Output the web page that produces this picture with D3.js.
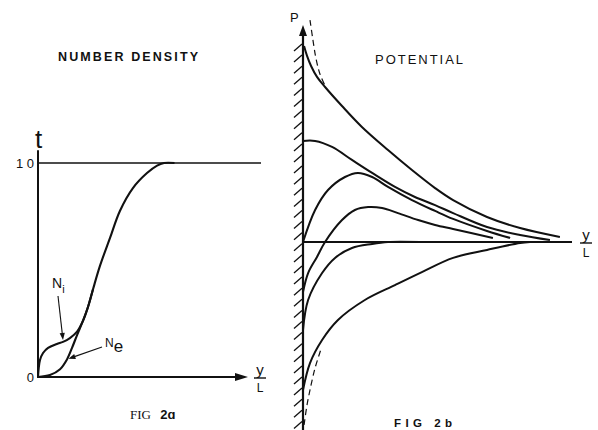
<!DOCTYPE html>
<html>
<head>
<meta charset="utf-8">
<title>Fig 2 - number density and potential</title>
<style>
  body { margin: 0; background: #fff; }
  svg { display: block; background: #fff; }
  text { fill: #111; }
</style>
</head>
<body>
<div id="chart"></div>
<script src="https://cdn.jsdelivr.net/npm/d3@7/dist/d3.min.js"></script>
<script>

// ---------------- fig 2a : number density, x = y/L, y = density (0..1)
const ionDensity = [
  [0, 0], [0.0095, 0.079], [0.024, 0.112], [0.048, 0.136], [0.090, 0.154],
  [0.119, 0.164], [0.152, 0.182], [0.186, 0.212], [0.214, 0.262], [0.238, 0.327],
  [0.262, 0.410], [0.295, 0.519], [0.343, 0.650], [0.390, 0.776], [0.452, 0.883],
  [0.519, 0.953], [0.567, 0.988], [0.600, 1.0], [0.65, 1.0]
];
const electronDensity = [
  [0, 0], [0.057, 0.009], [0.105, 0.036], [0.138, 0.082], [0.162, 0.136],
  [0.186, 0.196], [0.214, 0.262], [0.238, 0.327], [0.262, 0.410]
];
const densityTicks = [0, 1];
const densityTickLabels = ["0", "1 0"];
const densityLineEnd = 1.062;

// ---------------- fig 2b : potential profiles, x = y/L, y = P
const potentialTop = [
  [0.004, 1.010], [0.015, 0.959], [0.030, 0.907], [0.052, 0.851], [0.082, 0.799],
  [0.145, 0.701], [0.219, 0.593], [0.316, 0.474], [0.405, 0.371], [0.491, 0.278],
  [0.558, 0.216], [0.684, 0.129], [0.807, 0.072], [0.955, 0.026]
];
const potentialFlat = [
  [0, 0.521], [0.045, 0.521], [0.108, 0.490], [0.182, 0.423], [0.257, 0.356],
  [0.342, 0.284], [0.416, 0.232], [0.491, 0.190], [0.558, 0.149], [0.684, 0.077],
  [0.807, 0.036], [0.918, 0.010]
];
const potentialHump1 = [
  [0, 0], [0.045, 0.165], [0.093, 0.268], [0.156, 0.335], [0.204, 0.356],
  [0.257, 0.335], [0.316, 0.284], [0.405, 0.216], [0.491, 0.160], [0.558, 0.119],
  [0.684, 0.057], [0.770, 0.021]
];
const potentialHump2 = [
  [0, -0.258], [0.019, -0.160], [0.052, -0.077], [0.082, 0], [0.145, 0.113],
  [0.193, 0.165], [0.242, 0.180], [0.294, 0.175], [0.353, 0.149], [0.428, 0.113],
  [0.491, 0.088], [0.558, 0.067], [0.706, 0.021]
];
const potentialDip = [
  [0, -0.454], [0.019, -0.299], [0.071, -0.160], [0.119, -0.082], [0.182, -0.031],
  [0.257, -0.010], [0.316, 0], [0.435, 0]
];
const potentialBottom = [
  [0, -0.763], [0.026, -0.624], [0.071, -0.505], [0.130, -0.402], [0.230, -0.299],
  [0.342, -0.222], [0.442, -0.155], [0.558, -0.082], [0.684, -0.041], [0.807, -0.005],
  [0.844, 0]
];
const dashedTop = [[0.026, 1.144], [0.037, 1.041], [0.048, 0.948], [0.063, 0.866], [0.086, 0.794]];
const dashedBottom = [[0.004, -0.943], [0.015, -0.840], [0.030, -0.737], [0.045, -0.649], [0.065, -0.560]];

const potentialCurves = [potentialTop, potentialFlat, potentialHump1, potentialHump2, potentialDip, potentialBottom];
const dashedCurves = [dashedTop, dashedBottom];

////////////////////////////////////////////////////////////////////////////////
const W = 598, H = 430;
const ink = "#111";
const sans = "Liberation Sans, Arial, sans-serif";

const svg = d3.select("#chart").append("svg")
  .attr("width", W)
  .attr("height", H);

svg.append("rect").attr("width", W).attr("height", H).attr("fill", "#fff");

// ---- left panel
const xA = d3.scaleLinear().domain([0, 1]).range([38, 248]);
const yA = d3.scaleLinear().domain([0, 1]).range([377, 163]);

const lineA = d3.line()
  .x(d => xA(d[0]))
  .y(d => yA(d[1]))
  .curve(d3.curveCatmullRom.alpha(0.5));

const gA = svg.append("g");

// axes
gA.append("line")
  .attr("x1", xA(0)).attr("x2", xA(0))
  .attr("y1", yA(0) + 1).attr("y2", yA(1.06))
  .attr("stroke", ink).attr("stroke-width", 2);

gA.append("line")
  .attr("x1", xA(0)).attr("x2", xA(1) - 8)
  .attr("y1", yA(0)).attr("y2", yA(0))
  .attr("stroke", ink).attr("stroke-width", 2.2);

gA.append("path")
  .attr("d", `M${xA(1)},${yA(0)} L${xA(1) - 13},${yA(0) - 4} L${xA(1) - 13},${yA(0) + 4} Z`)
  .attr("fill", ink);

// the 1.0 level
gA.append("line")
  .attr("x1", xA(0)).attr("x2", xA(densityLineEnd))
  .attr("y1", yA(1)).attr("y2", yA(1))
  .attr("stroke", ink).attr("stroke-width", 1.6);

gA.selectAll("text.tick")
  .data(densityTicks)
  .enter().append("text")
  .attr("class", "tick")
  .attr("x", xA(0) - 4)
  .attr("y", d => yA(d) + 5)
  .attr("text-anchor", "end")
  .attr("font-family", sans)
  .attr("font-size", 13)
  .text((d, i) => densityTickLabels[i]);

// curves
[ionDensity, electronDensity].forEach(c => {
  gA.append("path")
    .attr("d", lineA(c))
    .attr("fill", "none")
    .attr("stroke", ink)
    .attr("stroke-width", 2.1);
});

// labels
gA.append("text")
  .attr("x", xA(0) - 3).attr("y", 148)
  .attr("font-family", sans)
  .attr("font-size", 26)
  .text("t");

gA.append("text")
  .attr("x", 128).attr("y", 61)
  .attr("text-anchor", "middle")
  .attr("font-family", sans)
  .attr("font-weight", "bold")
  .attr("font-size", 12.5)
  .attr("textLength", 140)
  .attr("lengthAdjust", "spacing")
  .text("NUMBER  DENSITY");

// y/L fraction
function fraction(g, x, y) {
  g.append("text").attr("x", x).attr("y", y - 3)
    .attr("text-anchor", "middle")
    .attr("font-family", sans)
    .attr("font-size", 15).text("y");
  g.append("line")
    .attr("x1", x - 6).attr("x2", x + 6)
    .attr("y1", y).attr("y2", y)
    .attr("stroke", ink).attr("stroke-width", 1.4);
  g.append("text").attr("x", x).attr("y", y + 14)
    .attr("text-anchor", "middle")
    .attr("font-family", sans)
    .attr("font-size", 12).text("L");
}
fraction(gA, 260, 378);

// arrows to the two density curves
function pointer(g, x1, y1, x2, y2) {
  const a = Math.atan2(y2 - y1, x2 - x1);
  const len = 7, wid = 2.6;
  g.append("line")
    .attr("x1", x1).attr("y1", y1)
    .attr("x2", x2 - Math.cos(a) * len * 0.8).attr("y2", y2 - Math.sin(a) * len * 0.8)
    .attr("stroke", ink).attr("stroke-width", 1.1);
  const bx = x2 - Math.cos(a) * len, by = y2 - Math.sin(a) * len;
  g.append("path")
    .attr("d", `M${x2},${y2} L${bx - Math.sin(a) * wid},${by + Math.cos(a) * wid} L${bx + Math.sin(a) * wid},${by - Math.cos(a) * wid} Z`)
    .attr("fill", ink);
}
pointer(gA, 58, 296, xA(0.119), yA(0.164) - 2);
pointer(gA, 102, 347, xA(0.145), yA(0.09) + 1);

const ni = gA.append("text")
  .attr("x", 52).attr("y", 288)
  .attr("font-family", sans)
  .attr("font-size", 14);
ni.append("tspan").text("N");
ni.append("tspan").attr("font-size", 11).attr("dy", 5).text("i");

const ne = gA.append("text")
  .attr("x", 105).attr("y", 347)
  .attr("font-family", sans)
  .attr("font-size", 12);
ne.append("tspan").text("N");
ne.append("tspan").attr("font-size", 17).attr("dy", 5).text("e");

const cap = gA.append("text")
  .attr("x", 130).attr("y", 419)
  .attr("font-size", 13);
cap.append("tspan").attr("font-family", "Liberation Serif, serif").text("FIG ");
cap.append("tspan").attr("font-family", sans)
  .attr("font-weight", "bold").attr("dx", 6).text("2ɑ");

// ---- right panel
const xB = d3.scaleLinear().domain([0, 1]).range([303, 572]);
const yB = d3.scaleLinear().domain([0, 1]).range([242, 48]);

const lineB = d3.line()
  .x(d => xB(d[0]))
  .y(d => yB(d[1]))
  .curve(d3.curveCatmullRom.alpha(0.5));

const gB = svg.append("g");

// hatched wall
const hatchY = d3.range(44, 432, 11.1);
gB.selectAll("line.hatch")
  .data(hatchY)
  .enter().append("line")
  .attr("class", "hatch")
  .attr("x1", xB(0) - 9).attr("y1", d => d + 7)
  .attr("x2", xB(0) - 1).attr("y2", d => d)
  .attr("stroke", ink).attr("stroke-width", 1.3);

gB.append("line")
  .attr("x1", xB(0)).attr("x2", xB(0))
  .attr("y1", 33).attr("y2", H)
  .attr("stroke", ink).attr("stroke-width", 2.2);

gB.append("path")
  .attr("d", `M${xB(0)},25 L${xB(0) - 4},36 L${xB(0) + 4},36 Z`)
  .attr("fill", ink);

gB.append("line")
  .attr("x1", xB(0)).attr("x2", xB(1))
  .attr("y1", yB(0)).attr("y2", yB(0))
  .attr("stroke", ink).attr("stroke-width", 1.8);

gB.selectAll("path.curve")
  .data(potentialCurves)
  .enter().append("path")
  .attr("class", "curve")
  .attr("d", lineB)
  .attr("fill", "none")
  .attr("stroke", ink)
  .attr("stroke-width", 2);

gB.selectAll("path.dash")
  .data(dashedCurves)
  .enter().append("path")
  .attr("class", "dash")
  .attr("d", lineB)
  .attr("fill", "none")
  .attr("stroke", ink)
  .attr("stroke-width", 1.2)
  .attr("stroke-dasharray", "6,4");

gB.append("text")
  .attr("x", 290).attr("y", 22)
  .attr("font-family", sans)
  .attr("font-size", 13)
  .text("P");

gB.append("text")
  .attr("x", 375).attr("y", 64)
  .attr("font-family", sans)
  .attr("font-size", 13)
  .attr("textLength", 88)
  .attr("lengthAdjust", "spacing")
  .text("POTENTIAL");

fraction(gB, 586, 243);

gB.append("text")
  .attr("x", 394).attr("y", 427)
  .attr("font-family", sans)
  .attr("font-weight", "bold")
  .attr("font-size", 11.5)
  .attr("textLength", 58)
  .attr("lengthAdjust", "spacing")
  .text("FIG 2b");

</script>
</body>
</html>
